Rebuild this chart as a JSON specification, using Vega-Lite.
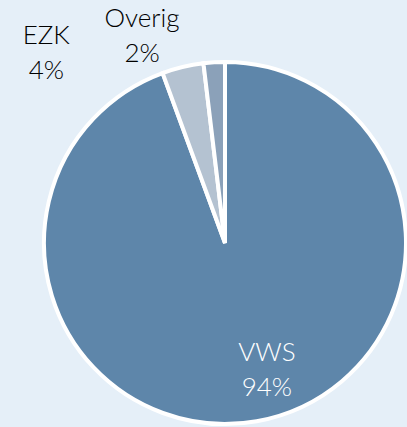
{
  "$schema": "https://vega.github.io/schema/vega-lite/v6.json",
  "width": 362,
  "height": 362,
  "autosize": {"type": "none"},
  "padding": {"left": 44, "top": 62, "right": 1, "bottom": 3},
  "background": "#e5eff8",
  "config": {"view": {"stroke": null}},
  "data": {
    "values": [
      {"cat": "VWS", "pct": 94.4, "ord": 1, "label": "VWS\n94%"},
      {"cat": "EZK", "pct": 3.7, "ord": 2, "label": "EZK\n4%"},
      {"cat": "Overig", "pct": 1.9, "ord": 3, "label": "Overig\n2%"}
    ]
  },
  "encoding": {
    "theta": {"field": "pct", "type": "quantitative", "stack": true},
    "order": {"field": "ord", "type": "quantitative"}
  },
  "layer": [
    {
      "mark": {"type": "arc", "stroke": "white", "strokeWidth": 4, "outerRadius": 181},
      "encoding": {
        "color": {
          "field": "cat",
          "type": "nominal",
          "scale": {"domain": ["VWS", "EZK", "Overig"], "range": ["#5e86aa", "#b4c2d1", "#8ba1b9"]},
          "legend": null
        }
      }
    },
    {
      "mark": {"type": "text", "radius": 125, "dx": 20, "dy": -13, "font": "Lato", "fontSize": 26, "fontWeight": 300, "lineBreak": "\n", "lineHeight": 35, "align": "center", "baseline": "middle", "fill": "white"},
      "encoding": {
        "text": {"condition": {"test": "datum.cat == 'VWS'", "field": "label"}, "value": ""}
      }
    },
    {
      "mark": {"type": "text", "radius": 200, "dx": -132, "dy": -13, "font": "Lato", "fontSize": 26, "fontWeight": 300, "lineBreak": "\n", "lineHeight": 35, "align": "center", "baseline": "middle", "fill": "black"},
      "encoding": {
        "text": {"condition": {"test": "datum.cat == 'EZK'", "field": "label"}, "value": ""}
      }
    },
    {
      "mark": {"type": "text", "radius": 200, "dx": -71, "dy": -24, "font": "Lato", "fontSize": 26, "fontWeight": 300, "lineBreak": "\n", "lineHeight": 35, "align": "center", "baseline": "middle", "fill": "black"},
      "encoding": {
        "text": {"condition": {"test": "datum.cat == 'Overig'", "field": "label"}, "value": ""}
      }
    }
  ]
}
